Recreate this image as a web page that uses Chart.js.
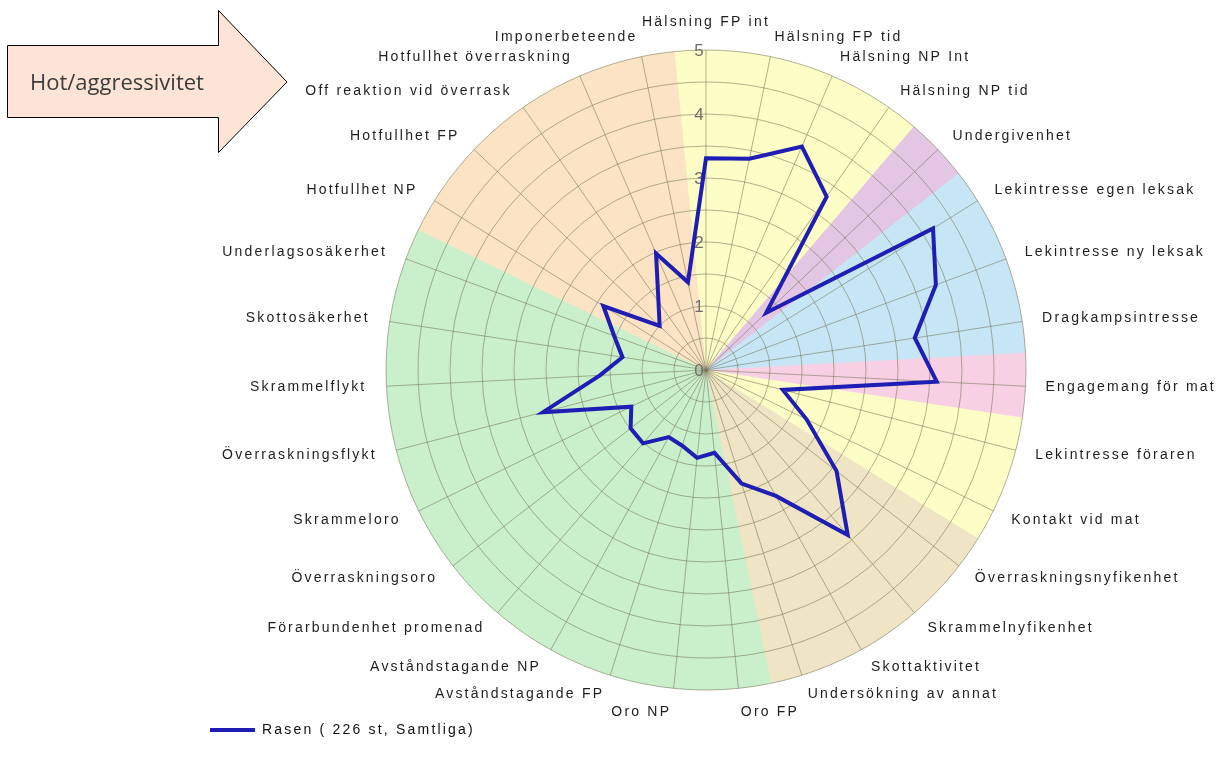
<!DOCTYPE html>
<html><head><meta charset="utf-8">
<script src="https://cdn.jsdelivr.net/npm/chart.js@4.4.1/dist/chart.umd.min.js"></script>
<style>
html,body{margin:0;padding:0;background:#fff;width:1229px;height:769px;overflow:hidden;position:relative}
#wrap{position:absolute;left:0;top:0;width:1233px;height:769px}
#arrow{position:absolute;left:0;top:0;pointer-events:none}
</style></head><body>
<div id="wrap"><canvas id="c"></canvas></div>
<svg id="arrow" width="300" height="160" xmlns="http://www.w3.org/2000/svg">
<polygon points="7.5,45.5 218.5,45.5 218.5,10.5 287,82 218.5,152.5 218.5,117.5 7.5,117.5" fill="#fde4d6" stroke="#000" stroke-width="1"/>
<text x="30" y="90" font-family="Open Sans" font-size="22" fill="#3c3c3c">Hot/aggressivitet</text>
</svg>
<script>
const categories = [
  'Hälsning FP int','Hälsning FP tid','Hälsning NP Int','Hälsning NP tid','Undergivenhet',
  'Lekintresse egen leksak','Lekintresse ny leksak','Dragkampsintresse','Engagemang för mat',
  'Lekintresse föraren','Kontakt vid mat','Överraskningsnyfikenhet','Skrammelnyfikenhet',
  'Skottaktivitet','Undersökning av annat','Oro FP','Oro NP','Avståndstagande FP',
  'Avståndstagande NP','Förarbundenhet promenad','Överraskningsoro','Skrammeloro',
  'Överraskningsflykt','Skrammelflykt','Skottosäkerhet','Underlagsosäkerhet','Hotfullhet NP',
  'Hotfullhet FP','Off reaktion vid överrask','Hotfullhet överraskning','Imponerbeteende'
];
const seriesName = 'Rasen ( 226 st, Samtliga)';
const seriesValues = [
  3.31, 3.37, 3.80, 3.30, 1.30, 4.18, 3.83, 3.30, 3.61, 1.24, 1.75,
  2.58, 3.40, 2.25, 1.86, 1.30, 1.38, 1.24, 1.20, 1.51, 1.49, 1.30,
  2.63, 1.66, 1.32, 1.53, 1.89, 1.00, 1.30, 1.98, 1.40
];
const tickValues = [0, 1, 2, 3, 4, 5];
const tickLabels = ['0', '1', '2', '3', '4', '5'];
const sectorGroups = [
  {from:0, to:3, color:'#fdfdc6'},
  {from:4, to:4, color:'#e3c6e4'},
  {from:5, to:7, color:'#c6e5f5'},
  {from:8, to:8, color:'#f8d0e4'},
  {from:9, to:10, color:'#fdfdc6'},
  {from:11, to:14, color:'#efe4c4'},
  {from:15, to:25, color:'#c9efcb'},
  {from:26, to:30, color:'#fce3c4'}
];

const FONT = "'Liberation Sans', Arial, sans-serif";
const SPACING = '2.2px';

const spacingPlugin = {
  id: 'spacing',
  beforeUpdate(c) { c.ctx.letterSpacing = SPACING; },
  beforeRender(c) { c.ctx.letterSpacing = SPACING; }
};

const sectorPlugin = {
  id: 'sectors',
  beforeDraw(chart) {
    const s = chart.scales.r;
    const ctx = chart.ctx;
    const step = 2 * Math.PI / categories.length;
    ctx.save();
    for (const g of sectorGroups) {
      const base = s.getIndexAngle(g.from) - Math.PI / 2;
      const a0 = base - step / 2 - 0.003;
      const a1 = base + (g.to - g.from + 0.5) * step + 0.003;
      ctx.beginPath();
      ctx.moveTo(s.xCenter, s.yCenter);
      ctx.arc(s.xCenter, s.yCenter, s.drawingArea, a0, a1);
      ctx.closePath();
      ctx.fillStyle = g.color;
      ctx.fill();
    }
    ctx.restore();
  }
};

const tickPlugin = {
  id: 'tickText',
  beforeDatasetsDraw(chart) {
    const s = chart.scales.r;
    const ctx = chart.ctx;
    ctx.save();
    ctx.font = '17px ' + FONT;
    ctx.letterSpacing = '0px';
    ctx.fillStyle = '#6e6e6e';
    ctx.textAlign = 'center';
    ctx.textBaseline = 'middle';
    tickValues.forEach((v, i) => {
      const p = s.getPointPositionForValue(0, v);
      ctx.fillText(tickLabels[i], p.x - 7, p.y + 1);
    });
    ctx.restore();
  }
};

new Chart(document.getElementById('c'), {
  type: 'radar',
  data: {
    labels: categories,
    datasets: [{
      label: seriesName,
      data: seriesValues,
      borderColor: '#1e1eb4',
      backgroundColor: 'rgba(0,0,0,0)',
      borderWidth: 4,
      fill: false,
      tension: 0,
      pointRadius: 0,
      pointHoverRadius: 0
    }]
  },
  options: {
    responsive: true,
    maintainAspectRatio: false,
    animation: false,
    layout: { padding: { left: 203, right: 0, top: 20, bottom: 22 } },
    plugins: {
      legend: {
        position: 'bottom',
        align: 'start',
        labels: {
          usePointStyle: true,
          pointStyle: 'line',
          pointStyleWidth: 45,
          padding: 7,
          color: '#111',
          font: { family: FONT, size: 14 }
        }
      },
      tooltip: { enabled: false }
    },
    scales: {
      r: {
        min: 0,
        max: 5,
        ticks: { stepSize: 0.5, display: false },
        grid: { circular: true, color: 'rgba(115,115,85,0.55)', lineWidth: 1 },
        angleLines: { color: 'rgba(115,115,85,0.55)', lineWidth: 1 },
        pointLabels: {
          padding: (c) => c.index === 0 ? 28 : (c.index === 15 || c.index === 16 ? 24 : 20),
          color: '#1e1e1e',
          font: { family: FONT, size: 14, lineHeight: 0 }
        }
      }
    }
  },
  plugins: [spacingPlugin, sectorPlugin, tickPlugin]
});
</script>
</body></html>
